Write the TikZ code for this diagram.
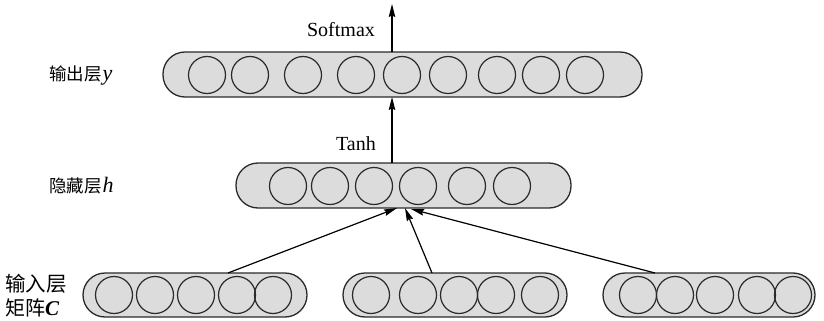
\documentclass[tikz,border=0pt]{standalone}
\usepackage{fontspec}
\setmainfont{Liberation Serif}
\newfontfamily\cjk{Noto Sans CJK SC}
\usetikzlibrary{arrows.meta}
\definecolor{capfill}{HTML}{DCDCDC}
\definecolor{capline}{HTML}{2A2A2A}
\tikzset{
  capsule/.style={draw=capline, line width=1.3pt, fill=capfill, rectangle, rounded corners=22pt, inner sep=0pt},
  unit/.style={draw=capline, line width=1.2pt, circle, minimum size=37pt, inner sep=0pt},
  arr/.style={draw=black, line width=1.2pt, -{Stealth[length=13pt,width=6.5pt,inset=1.5pt]}},
  lbl/.style={inner sep=0pt, font=\fontsize{20}{22}\selectfont},
  cjklbl/.style={inner sep=0pt, anchor=west}
}
\begin{document}
\begin{tikzpicture}[x=1pt,y=-1pt]
\useasboundingbox (0,0) rectangle (824,321);
% capsules
\node[capsule, minimum width=479pt, minimum height=45pt] (out) at (402.5,74.5) {};
\node[capsule, minimum width=335pt, minimum height=45pt] (hid) at (403.5,185.5) {};
\node[capsule, minimum width=224pt, minimum height=44pt] (in1) at (195,295) {};
\node[capsule, minimum width=224pt, minimum height=44pt] (in2) at (455,295) {};
\node[capsule, minimum width=212pt, minimum height=44pt] (in3) at (709,295) {};
% units
\foreach \x [count=\i] in {207,250,303,356,402,448,497,541,585}
  \node[unit] (o\i) at (\x,75) {};
\foreach \x [count=\i] in {288,330,374,418,467,512}
  \node[unit] (h\i) at (\x,186) {};
\foreach \x [count=\i] in {114,155,196,237,273}
  \node[unit] (a\i) at (\x,295) {};
\foreach \x [count=\i] in {371,418,459,496,540}
  \node[unit] (b\i) at (\x,295) {};
\foreach \x [count=\i] in {638,675,715,757,793}
  \node[unit] (c\i) at (\x,295) {};
% connector end points
\coordinate (top) at (392,4);
\coordinate (os) at (392,97);
\coordinate (on) at (392,52);
\coordinate (hn) at (392,163);
\coordinate (t1) at (397,208);
\coordinate (t2) at (405,208);
\coordinate (t3) at (411,209);
\coordinate (s1) at (228,273);
\coordinate (s2) at (432,273);
\coordinate (s3) at (655,273);
% arrows
\draw[arr] (on) -- (top);
\draw[arr] (hn) -- (os);
\draw[arr] (s1) -- (t1);
\draw[arr] (s2) -- (t2);
\draw[arr] (s3) -- (t3);
% labels
\node[lbl] (softmax) at (341,30) {Softmax};
\node[lbl] (tanh) at (356,144) {Tanh};
\node[cjklbl] (lout) at (49,75) {{\cjk\fontsize{17.5}{19}\selectfont 输出层}\kern1pt{\fontsize{22}{22}\selectfont\itshape y}};
\node[cjklbl] (lhid) at (49,186) {{\cjk\fontsize{17.5}{19}\selectfont 隐藏层}\kern1pt{\fontsize{22}{22}\selectfont\itshape h}};
\node[cjklbl] (lin1) at (5,284) {\cjk\fontsize{20.5}{22}\selectfont 输入层};
\node[cjklbl] (lin2) at (5,308) {{\cjk\fontsize{20}{22}\selectfont 矩阵}{\fontsize{21}{22}\selectfont\bfseries\itshape C}};
\end{tikzpicture}
\end{document}
